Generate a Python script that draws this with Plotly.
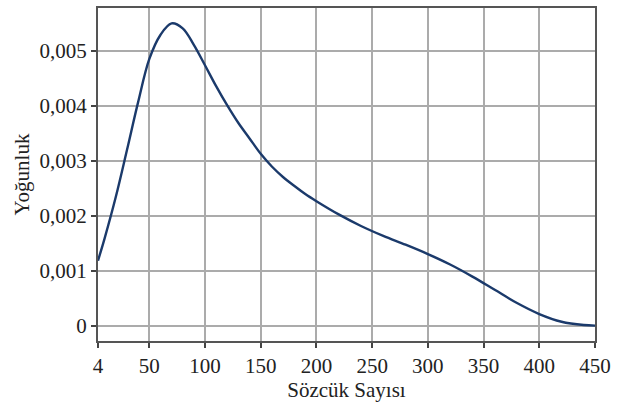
import plotly.graph_objects as go

x_vals = [4, 10, 20, 30, 40, 50, 60, 70, 80, 90, 100, 110, 120, 130, 140, 150, 160, 170,
          180, 190, 200, 220, 240, 260, 280, 300, 320, 340, 360, 380, 400, 420, 440, 450]
density = [0.00119, 0.0016, 0.00235, 0.0032, 0.00407, 0.00485, 0.00529, 0.0055, 0.00541,
           0.00511, 0.00474, 0.00436, 0.00401, 0.00369, 0.00341, 0.00313, 0.0029, 0.00271,
           0.00255, 0.0024, 0.00227, 0.00203, 0.00182, 0.00164, 0.00148, 0.00131, 0.00112,
           0.0009, 0.00066, 0.00042, 0.00022, 0.00008, 0.00002, 0.00001]
x_ticks = [4, 50, 100, 150, 200, 250, 300, 350, 400, 450]
y_ticks = [0, 0.001, 0.002, 0.003, 0.004, 0.005]
y_labels = ["0", "0,001", "0,002", "0,003", "0,004", "0,005"]

fig = go.Figure()
fig.add_trace(go.Scatter(x=x_vals, y=density, mode="lines",
                         line=dict(color="#1b3a6b", width=2.4, shape="spline", smoothing=1.0)))

font_family = "Liberation Serif"
fig.update_layout(
    width=617, height=405,
    margin=dict(l=98, r=21, t=6, b=64),
    paper_bgcolor="white", plot_bgcolor="white",
    showlegend=False,
    font=dict(family=font_family, size=21, color="#222"),
)
fig.update_xaxes(range=[4, 450], tickvals=x_ticks, ticktext=[str(t) for t in x_ticks],
                 showgrid=True, gridcolor="#ababab", gridwidth=1.5,
                 showline=True, linecolor="#555", linewidth=2, mirror=True,
                 ticks="outside", ticklen=5, tickcolor="#444", tickwidth=1.5,
                 zeroline=False,
                 title=dict(text="Sözcük Sayısı", font=dict(size=21), standoff=4))
fig.update_yaxes(range=[-0.00027, 0.00578], tickvals=y_ticks, ticktext=y_labels,
                 showgrid=True, gridcolor="#ababab", gridwidth=1.5,
                 showline=True, linecolor="#555", linewidth=2, mirror=True,
                 ticks="outside", ticklen=5, tickcolor="#444", tickwidth=1.5,
                 zeroline=False,
                 title=dict(text="Yoğunluk", font=dict(size=21), standoff=4))
fig.write_html("out.html", config={"displayModeBar": False},
               post_script="document.body.style.margin='0';document.body.style.padding='0';")
